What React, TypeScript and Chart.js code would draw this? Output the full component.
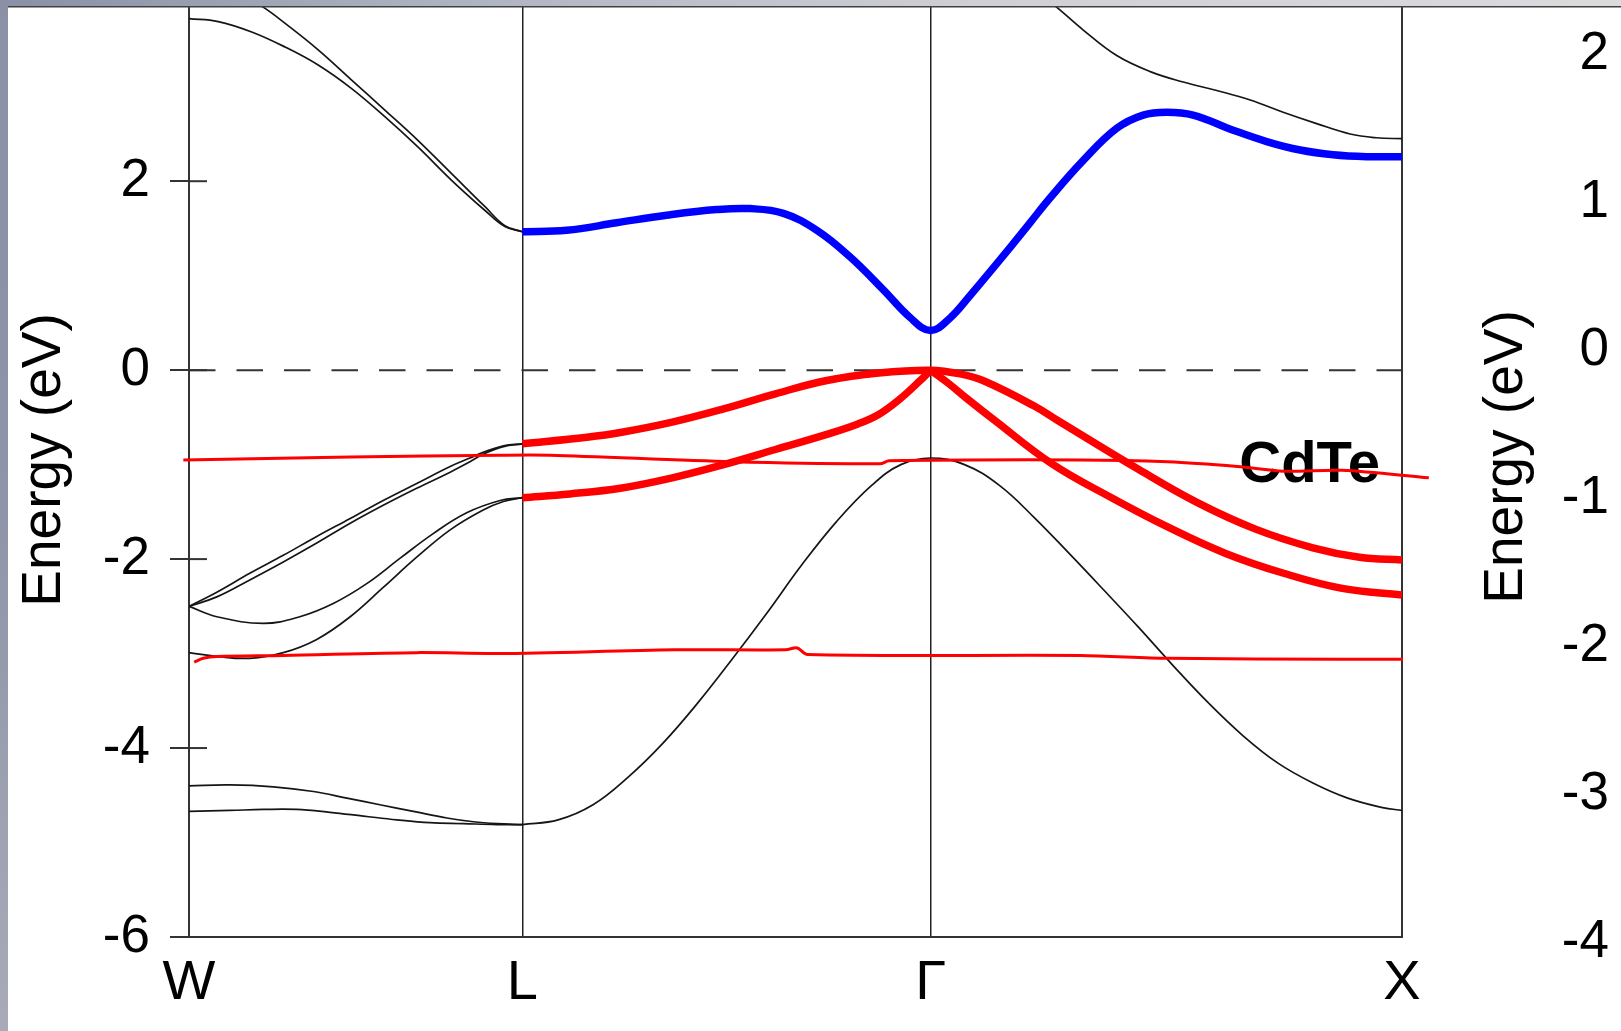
import React, { useEffect, useRef } from 'react';
import { Chart, registerables } from 'chart.js';

Chart.register(...registerables);

type P = [number, number];

// high-symmetry path (k-path length units) and labels
const K_TICKS = [0, 0.7071, 1.5731, 2.5731];
const K_LABELS = ['W', 'L', 'Γ', 'X'];
const LEFT_TICKS = [-6, -4, -2, 0, 2, 4];
const RIGHT_TICKS = [-4, -3, -2, -1, 0, 1, 2];
const Y_TITLE = 'Energy (eV)';
const MATERIAL = 'CdTe';

// ---- conduction bands (black, thin) ----
const cbWL1: P[] = [[0, 3.72], [0.062, 3.69], [0.133, 3.58], [0.204, 3.42], [0.274, 3.23], [0.345, 2.98], [0.416, 2.68], [0.486, 2.36], [0.557, 2.01], [0.628, 1.69], [0.67, 1.52], [0.7071, 1.465]];
const cbWL2: P[] = [[0.108, 3.98], [0.158, 3.84], [0.204, 3.67], [0.274, 3.39], [0.345, 3.07], [0.416, 2.75], [0.486, 2.43], [0.557, 2.08], [0.628, 1.73], [0.67, 1.53], [0.7071, 1.465]];
const cbGX2: P[] = [[1.8, 4.0], [1.841, 3.84], [1.897, 3.6], [1.968, 3.33], [2.039, 3.16], [2.109, 3.05], [2.18, 2.96], [2.251, 2.86], [2.321, 2.73], [2.392, 2.61], [2.463, 2.5], [2.519, 2.46], [2.5731, 2.45]];

// ---- lowest conduction band (blue) ----
const cbBlue: P[] = [[0.7071, 1.465], [0.801, 1.48], [0.907, 1.56], [1.013, 1.64], [1.119, 1.7], [1.19, 1.71], [1.261, 1.66], [1.332, 1.48], [1.402, 1.2], [1.473, 0.85], [1.529, 0.56], [1.5731, 0.42], [1.614, 0.55], [1.657, 0.79], [1.699, 1.04], [1.742, 1.3], [1.784, 1.56], [1.826, 1.82], [1.897, 2.22], [1.968, 2.56], [2.024, 2.7], [2.074, 2.73], [2.13, 2.7], [2.215, 2.54], [2.286, 2.42], [2.357, 2.33], [2.427, 2.28], [2.498, 2.26], [2.5731, 2.26]];

// ---- top valence bands (red, thick) ----
const vbRed1: P[] = [[0.7071, -0.78], [0.844, -0.71], [0.915, -0.66], [1.025, -0.55], [1.134, -0.41], [1.244, -0.25], [1.353, -0.11], [1.463, -0.03], [1.5731, 0], [1.636, -0.04], [1.689, -0.12], [1.793, -0.38], [1.842, -0.53], [2.014, -1.05], [2.138, -1.4], [2.261, -1.68], [2.384, -1.88], [2.483, -1.98], [2.5731, -2.01]];
const vbRed2LG: P[] = [[0.7071, -1.35], [0.808, -1.31], [0.915, -1.25], [1.025, -1.14], [1.134, -1.0], [1.244, -0.84], [1.353, -0.68], [1.419, -0.57], [1.463, -0.47], [1.507, -0.31], [1.551, -0.11], [1.5731, 0]];
const vbRed2GX: P[] = [[1.5731, 0], [1.611, -0.14], [1.65, -0.3], [1.706, -0.52], [1.83, -0.99], [1.953, -1.34], [2.076, -1.66], [2.199, -1.94], [2.322, -2.15], [2.446, -2.31], [2.5731, -2.38]];

// ---- other valence bands (black, thin) ----
const vbWLU1: P[] = [[0, -2.5], [0.059, -2.35], [0.129, -2.15], [0.2, -1.96], [0.271, -1.76], [0.342, -1.57], [0.412, -1.38], [0.483, -1.2], [0.554, -1.02], [0.596, -0.93], [0.624, -0.87], [0.667, -0.8], [0.7071, -0.78]];
const vbWLU2: P[] = [[0, -2.5], [0.059, -2.4], [0.129, -2.22], [0.2, -2.03], [0.271, -1.83], [0.342, -1.62], [0.412, -1.43], [0.483, -1.25], [0.554, -1.08], [0.596, -0.97], [0.624, -0.89], [0.667, -0.81], [0.7071, -0.78]];
const vbWLD1: P[] = [[0, -2.5], [0.059, -2.61], [0.158, -2.68], [0.235, -2.61], [0.306, -2.47], [0.377, -2.26], [0.448, -1.99], [0.518, -1.73], [0.589, -1.51], [0.66, -1.38], [0.7071, -1.35]];
const vbWLD2: P[] = [[0, -2.99], [0.059, -3.03], [0.129, -3.05], [0.2, -2.99], [0.271, -2.85], [0.342, -2.61], [0.412, -2.3], [0.483, -1.98], [0.554, -1.69], [0.624, -1.48], [0.667, -1.39], [0.7071, -1.35]];
const vbWLL1: P[] = [[0, -4.4], [0.087, -4.39], [0.179, -4.41], [0.264, -4.46], [0.335, -4.53], [0.405, -4.6], [0.476, -4.67], [0.547, -4.74], [0.603, -4.78], [0.653, -4.8], [0.7071, -4.81]];
const vbWLL2: P[] = [[0, -4.67], [0.087, -4.66], [0.158, -4.65], [0.228, -4.65], [0.299, -4.68], [0.37, -4.72], [0.441, -4.76], [0.511, -4.79], [0.582, -4.8], [0.653, -4.81], [0.7071, -4.81]];
const vbLow: P[] = [[0.7071, -4.81], [0.783, -4.76], [0.857, -4.6], [0.931, -4.31], [1.005, -3.95], [1.078, -3.53], [1.152, -3.06], [1.226, -2.57], [1.3, -2.06], [1.374, -1.6], [1.448, -1.22], [1.51, -1.0], [1.5731, -0.93], [1.645, -1.0], [1.719, -1.22], [1.793, -1.56], [1.867, -1.94], [1.941, -2.33], [2.014, -2.72], [2.088, -3.13], [2.162, -3.52], [2.236, -3.87], [2.31, -4.16], [2.384, -4.37], [2.458, -4.53], [2.532, -4.63], [2.5731, -4.66]];

// ---- Fermi level (dashed) ----
const fermi: P[] = [[0, 0], [2.5731, 0]];

// ---- hand-drawn red annotation lines ----
const annoUpper: P[] = [[-0.012, -0.95], [0.342, -0.92], [0.66, -0.9], [0.766, -0.9], [1.152, -0.97], [1.466, -0.99], [1.485, -0.96], [1.891, -0.95], [2.076, -0.97], [2.224, -1.02], [2.322, -1.07], [2.446, -1.06], [2.63, -1.14]];
const annoLower: P[] = [[0.011, -3.09], [0.03, -3.05], [0.059, -3.03], [0.2, -3.02], [0.483, -2.99], [0.66, -3.0], [1.029, -2.96], [1.266, -2.96], [1.29, -2.94], [1.312, -3.01], [1.891, -3.02], [2.076, -3.05], [2.446, -3.06], [2.575, -3.06]];

const FONT = "'Liberation Sans', Arial, Helvetica, sans-serif";

const toXY = (d: P[]) => d.map(([x, y]) => ({ x, y }));
const line = (d: P[], color: string, width: number, extra: any = {}) => ({
  data: toXY(d),
  borderColor: color,
  backgroundColor: color,
  borderWidth: width,
  pointRadius: 0,
  fill: false,
  tension: 0.4,
  ...extra,
});

const decor = {
  id: 'decor',
  beforeDatasetsDraw(chart: any) {
    const { ctx, chartArea, scales } = chart;
    ctx.save();
    // inner tick marks of the left axis
    ctx.strokeStyle = '#333';
    ctx.lineWidth = 2;
    for (const v of LEFT_TICKS) {
      const py = scales.y.getPixelForValue(v);
      if (py < chartArea.top || py > chartArea.bottom) continue;
      ctx.beginPath();
      ctx.moveTo(chartArea.left, py);
      ctx.lineTo(chartArea.left + 18, py);
      ctx.stroke();
    }
    // material label
    ctx.fillStyle = '#000';
    ctx.font = `bold 58px ${FONT}`;
    ctx.textAlign = 'right';
    ctx.textBaseline = 'alphabetic';
    ctx.fillText(MATERIAL, chartArea.right - 22, scales.y.getPixelForValue(-1.18));
    ctx.restore();
  },
  afterDraw(chart: any) {
    const { ctx, width, height } = chart;
    ctx.save();
    // axis titles (rotated, reading upwards)
    ctx.fillStyle = '#000';
    ctx.font = `55px ${FONT}`;
    ctx.textAlign = 'center';
    ctx.textBaseline = 'middle';
    const title = (x: number, y: number) => {
      ctx.save();
      ctx.translate(x, y);
      ctx.rotate(-Math.PI / 2);
      ctx.fillText(Y_TITLE, 0, 0);
      ctx.restore();
    };
    title(44.5, 460);
    title(1507, 457);
    // window frame strips
    const gTop = ctx.createLinearGradient(0, 0, width, 0);
    gTop.addColorStop(0, '#8a90a5');
    gTop.addColorStop(0.25, '#aab0be');
    gTop.addColorStop(0.6, '#cfd0d5');
    gTop.addColorStop(1, '#dbdbde');
    ctx.fillStyle = gTop;
    ctx.fillRect(0, 0, width, 6);
    ctx.fillStyle = '#404040';
    ctx.fillRect(8, 6, width - 8, 1.5);
    const gLeft = ctx.createLinearGradient(0, 0, 0, height);
    gLeft.addColorStop(0, '#8a90a5');
    gLeft.addColorStop(0.5, '#8f95a8');
    gLeft.addColorStop(1, '#a8abb7');
    ctx.fillStyle = gLeft;
    ctx.fillRect(0, 0, 8, height);
    ctx.restore();
  },
};

export default function App() {
  const ref = useRef<HTMLCanvasElement>(null);
  useEffect(() => {
    if (!ref.current) return;
    const RED = '#ff0000';
    const BLUE = '#0000ff';
    const BLK = '#151515';
    const datasets: any[] = [
      line(annoUpper, RED, 3, { clip: false, tension: 0.3 }),
      line(annoLower, RED, 3, { clip: false, tension: 0.3 }),
      line(vbRed1, RED, 7.5),
      line(vbRed2LG, RED, 7.5),
      line(vbRed2GX, RED, 7.5),
      line(cbBlue, BLUE, 7.5),
      line(cbWL1, BLK, 1.7),
      line(cbWL2, BLK, 1.7),
      line(cbGX2, BLK, 1.7),
      line(vbWLU1, BLK, 1.7),
      line(vbWLU2, BLK, 1.7),
      line(vbWLD1, BLK, 1.7),
      line(vbWLD2, BLK, 1.7),
      line(vbWLL1, BLK, 1.7),
      line(vbWLL2, BLK, 1.7),
      line(vbLow, BLK, 1.7),
      line(fermi, '#333', 2, { borderDash: [26.5, 21], tension: 0 }),
    ];
    const chart = new Chart(ref.current, {
      type: 'line',
      data: { datasets },
      plugins: [decor],
      options: {
        responsive: false,
        devicePixelRatio: 1,
        animation: false,
        events: [],
        layout: { autoPadding: false, padding: { left: 0, right: 12, top: 7, bottom: 0 } },
        elements: { line: { capBezierPoints: false } },
        plugins: { legend: { display: false }, tooltip: { enabled: false } },
        scales: {
          x: {
            type: 'linear',
            min: 0,
            max: 2.5731,
            afterBuildTicks: (s: any) => { s.ticks = K_TICKS.map((value) => ({ value })); },
            afterFit: (s: any) => { s.height = 94; s.paddingLeft = 0; s.paddingRight = 0; },
            ticks: {
              autoSkip: false,
              maxRotation: 0,
              padding: 13,
              color: '#000',
              font: { family: FONT, size: 56 },
              callback: (_v: any, i: number) => K_LABELS[i],
            },
            grid: { drawTicks: false, color: '#222', lineWidth: 1.5 },
            border: { display: true, color: '#333', width: 2 },
          },
          y: {
            type: 'linear',
            position: 'left',
            min: -6,
            max: 3.844,
            afterBuildTicks: (s: any) => { s.ticks = LEFT_TICKS.map((value) => ({ value })); },
            afterFit: (s: any) => { s.width = 189; s.paddingTop = 0; s.paddingBottom = 0; },
            ticks: {
              autoSkip: false,
              padding: 20,
              color: '#000',
              font: { family: FONT, size: 53 },
              callback: (v: any) => String(v),
            },
            grid: { drawOnChartArea: false, drawTicks: true, tickLength: 19, color: '#333', lineWidth: 2 },
            border: { display: true, color: '#333', width: 2 },
          },
          y2: {
            type: 'linear',
            position: 'right',
            min: -3.962,
            max: 2.317,
            afterBuildTicks: (s: any) => { s.ticks = RIGHT_TICKS.map((value) => ({ value })); },
            afterFit: (s: any) => { s.width = 207; s.paddingTop = 0; s.paddingBottom = 0; },
            ticks: {
              autoSkip: false,
              crossAlign: 'far',
              color: '#000',
              font: { family: FONT, size: 53 },
              callback: (v: any) => String(v),
            },
            grid: { display: false },
            border: { display: true, color: '#333', width: 2 },
          },
        },
      } as any,
    });
    return () => chart.destroy();
  }, []);
  return (
    <div style={{ position: 'fixed', left: 0, top: 0, width: 1621, height: 1031, background: '#fff' }}>
      <canvas ref={ref} width={1621} height={1031} style={{ display: 'block', width: 1621, height: 1031 }} />
    </div>
  );
}
